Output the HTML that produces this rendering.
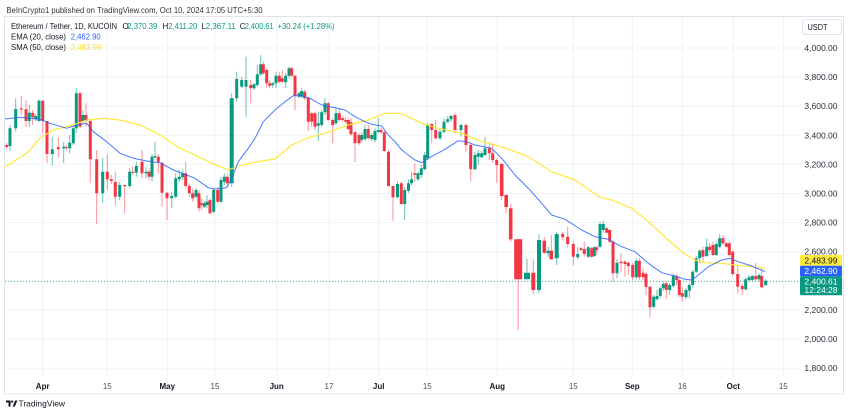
<!DOCTYPE html>
<html><head><meta charset="utf-8"><style>
html,body{margin:0;padding:0;background:#fff;}
svg{display:block;font-family:"Liberation Sans",sans-serif;}
</style></head><body>
<svg width="850" height="416" viewBox="0 0 850 416" xmlns="http://www.w3.org/2000/svg">
<rect x="0" y="0" width="850" height="416" fill="#fff"/>
<!-- header -->
<text x="6.5" y="13" font-size="8" fill="#333" textLength="256" lengthAdjust="spacingAndGlyphs">BeInCrypto1 published on TradingView.com, Oct 10, 2024 17:05 UTC+5:30</text>
<!-- frame -->
<rect x="4.5" y="16.5" width="839" height="377.5" fill="none" stroke="#e0e3eb" stroke-width="1"/>
<!-- grid -->
<g stroke="#f0f2f6" stroke-width="1">
<path d="M5 48H800M5 77.1H800M5 106.2H800M5 135.3H800M5 164.4H800M5 193.5H800M5 222.6H800M5 251.7H800M5 280.8H800M5 309.9H800M5 339H800M5 368.1H800"/>
<path d="M42.7 17V376M107.3 17V376M167.3 17V376M215 17V376M276.7 17V376M329 17V376M378.7 17V376M427.3 17V376M497.3 17V376M573.3 17V376M632.3 17V376M682.3 17V376M733.3 17V376M783.3 17V376"/>
</g>
<!-- current price dotted -->
<path d="M5 281.5H800" stroke="#089981" stroke-width="1" stroke-dasharray="1 2" opacity="0.7"/>
<!-- legend -->
<g font-size="8">
<text x="11" y="29" fill="#131722" textLength="106" lengthAdjust="spacingAndGlyphs">Ethereum / Tether, 1D, KUCOIN</text>
<text x="122.5" y="29" fill="#131722">O</text>
<text x="127.3" y="29" fill="#089981" textLength="30" lengthAdjust="spacingAndGlyphs">2,370.39</text>
<text x="162.5" y="29" fill="#131722">H</text>
<text x="168.3" y="29" fill="#089981" textLength="29" lengthAdjust="spacingAndGlyphs">2,411.20</text>
<text x="201.5" y="29" fill="#131722">L</text>
<text x="205.8" y="29" fill="#089981" textLength="30" lengthAdjust="spacingAndGlyphs">2,367.11</text>
<text x="239.8" y="29" fill="#131722">C</text>
<text x="244.7" y="29" fill="#089981" textLength="29" lengthAdjust="spacingAndGlyphs">2,400.61</text>
<text x="277.5" y="29" fill="#089981" textLength="57" lengthAdjust="spacingAndGlyphs">+30.24 (+1.28%)</text>
<text x="11" y="39.5" fill="#131722" textLength="55" lengthAdjust="spacingAndGlyphs">EMA (20, close)</text>
<text x="70.7" y="39.5" fill="#2962ff" textLength="30" lengthAdjust="spacingAndGlyphs">2,462.90</text>
<text x="11" y="50" fill="#131722" textLength="55" lengthAdjust="spacingAndGlyphs">SMA (50, close)</text>
<text x="70.7" y="50" fill="#f5dc3c" textLength="30.5" lengthAdjust="spacingAndGlyphs">2,483.99</text>
</g>
<!-- green wicks -->
<path fill="none" stroke="#089981" stroke-width="1" opacity="0.6" d="M10 125V150.7 M15.7 98.3V131.7 M29.3 105V126.7 M35.7 114V121 M39 99.3V121.7 M52.3 136.7V165 M63.7 141.7V163.3 M69.7 135V153.3 M73.3 126.7V145 M76.3 88.3V133.3 M83 110V123.3 M102.7 158.3V203.3 M119.7 181.7V200 M129.7 168.3V188.3 M136.3 161.7V176.7 M146 166.7V178.3 M152 154V181.7 M155 141.7V158.3 M171.7 191.7V208.3 M175.7 173.3V198.3 M179.3 170V181.7 M182.7 169.3V180 M196 188.3V198.3 M204.3 201V208 M207 195V208.3 M213.7 188.3V213.3 M221 176.7V203.3 M224.3 173.3V185 M231.7 93.3V186.7 M236.7 71.7V101.7 M241.7 76.7V88.3 M246 56.7V116.7 M254 83.3V90 M257.3 65V86.7 M260.7 55V75.7 M272.7 81.7V87.7 M276 71.7V87.7 M285.7 73.3V87.7 M289 66.7V78.3 M299 91.7V97.7 M301.7 88.3V98.3 M318.3 111.7V141 M321.7 110V126.7 M325 98.3V115 M336 108.3V125 M361.7 132.3V142.3 M365 125V141 M371.7 133V141 M375 128.3V142.3 M378.3 117.7V133.3 M397.5 181.7V198.3 M404.7 186.7V220 M408.5 179.3V192.7 M411.5 171.7V185 M418 171.7V181 M421.3 165V178.3 M424.7 152V170 M427.7 123.3V160 M440 128.3V140 M444 118.3V133.3 M447.7 116V123.3 M451 115V121.7 M461 123.3V136.7 M475 151.7V170 M478.3 150V165 M481.7 151V158 M485 136.7V156 M527 259V279.3 M539 234V292.7 M548.3 246.7V256.7 M556.7 231.7V265 M577.7 246.7V259.3 M588.3 246V258 M594.3 246V257 M600 221.7V248.3 M603.3 220.7V232.7 M617 259.3V278.3 M636.3 258.3V279.3 M653.7 295V308.3 M657 290V300 M660.3 286.7V298.3 M663.3 281.7V290.7 M669.7 283.3V295 M673.3 274V287.3 M686 288.3V299.3 M689.3 283.3V298.3 M692.7 270V287.3 M696.3 256V273.3 M699.7 249.3V263.3 M706.7 238.3V257.3 M716.3 241.7V256 M719.7 234V248.3 M745.7 277.3V290.7 M749 275V281.7 M752.3 275V281.7 M759 273.3V281.7 M765.7 279.2V285.6"/>
<!-- red wicks -->
<path fill="none" stroke="#f23645" stroke-width="1" opacity="0.55" d="M6.7 143V149 M21.3 96V115 M26 100V126.7 M32.7 110V125 M42.7 100V133.3 M47 121V163.3 M58.3 137.3V157.7 M66.3 145V150 M80 91.7V128.3 M86 103.3V126.7 M90.3 121V183.3 M96.7 150V224 M107.3 154V190 M111.3 175V184 M115.3 171.7V205 M124.7 185V213.3 M132.7 166.7V175 M142 150V178.3 M149 168.3V180 M158.3 154V173.3 M162 161.7V206.7 M167 191.7V220 M185.7 161.7V188.3 M189.3 183.3V196.7 M192.7 188.3V201.7 M199 190V211.7 M201.7 198.3V210 M210 198.3V214.3 M217.7 186.7V203.3 M227.3 173.3V186.7 M250.7 80V103.3 M263.3 61.7V75 M266.7 68.3V87.7 M269.7 80V88.3 M279.3 71.7V83.3 M282.3 70V83.3 M291.7 66.7V76.7 M295 75V110 M304.7 90V100 M308.3 96.7V131 M311.7 112.3V126.7 M315 111.7V130 M328.3 101.7V121 M332.7 118.3V143.3 M339.3 108.3V121.7 M342.7 116V122 M345.7 116.7V123.3 M348.3 118.3V130 M351 118.3V135.7 M355 131V162.3 M359 133.3V145 M368.3 125V140 M381 128V134 M384.3 131V151.7 M388.5 150V186.7 M393 186V220.7 M401.3 181.7V205 M414.8 163.3V181.7 M431.7 123.3V143.3 M435.7 120V139.3 M455 112.7V133.3 M466 123.3V151.7 M470.7 143.3V181.7 M489.3 141.7V160 M492.7 143.3V163.3 M496.7 158.3V182.7 M501.7 162.7V200 M506.2 194V213.3 M510.7 204V241.7 M518.2 238.3V330 M533.3 259.3V294 M544.3 236.7V254 M551.3 235V260 M562.7 232V240 M567.7 226.7V247.3 M573.3 241.7V265 M581 247V251 M584.3 241.7V256.7 M591.7 247V258 M596.7 246V255 M606.7 226.7V233.3 M609.7 229.3V243.3 M613 240V281.7 M621 253.3V271.7 M625 260V276.7 M628.3 261.7V275 M632.7 263.3V280 M639.3 258.3V280 M643 268.3V280 M646 271.7V295 M650 286V317.3 M666.3 281.7V299.3 M676.7 274V285 M679.3 278.3V296.7 M682.3 287.3V301.7 M703 246.7V263.3 M709.7 243.3V253.3 M713 241.7V256 M723 235V245 M726.3 241.7V247.3 M729.3 241.7V256.7 M732.7 250.7V276 M737.7 266V293.3 M742.3 283.3V295 M755.7 263.3V280.7 M761.7 268.3V288.3"/>
<!-- green bodies -->
<path fill="#089981" d="M8.5 128.3h3V146h-3z M14.2 109h3V128.3h-3z M27.8 112.7h3V121h-3z M34.2 116h3V119.3h-3z M37.5 100.7h3V121h-3z M50.8 149.3h3V154h-3z M62.2 146.7h3V148.3h-3z M68.2 142.7h3V148.3h-3z M71.8 128.3h3V143.3h-3z M74.8 93.3h3V128.3h-3z M81.5 115h3V121h-3z M101.2 171.7h3V193.3h-3z M118.2 185h3V196.7h-3z M128.2 171.7h3V186h-3z M134.8 166h3V172.7h-3z M144.5 171.7h3V173.3h-3z M150.5 156.7h3V176.7h-3z M153.5 156h3V157.3h-3z M170.2 196h3V198.3h-3z M174.2 178.3h3V196.7h-3z M177.8 176.7h3V179.3h-3z M181.2 173.3h3V177.3h-3z M194.5 190h3V196.7h-3z M202.8 203.3h3V206.7h-3z M205.5 201.7h3V205h-3z M212.2 190h3V211.7h-3z M219.5 180h3V201.7h-3z M222.8 176.7h3V181.7h-3z M229.7 98.3h4V183.3h-4z M235.2 79h3V98.3h-3z M240.2 80h3V86.7h-3z M244.5 80h3V86.7h-3z M252.5 84.3h3V88.3h-3z M255.8 74.3h3V85h-3z M259.2 64.3h3V74.3h-3z M271.2 83.3h3V85h-3z M274.5 75.7h3V83.3h-3z M284.2 75.7h3V82.3h-3z M287.5 68.3h3V75.7h-3z M297.5 93.3h3V96.7h-3z M300.2 91h3V96.7h-3z M316.8 123.3h3V125.7h-3z M320.2 112.3h3V125h-3z M323.5 103.3h3V112.3h-3z M334.5 113.3h3V123.3h-3z M360.2 135h3V140h-3z M363.5 129h3V139h-3z M370.2 135h3V139h-3z M373.5 131h3V140h-3z M376.8 130h3V131.7h-3z M396 184h3V197.3h-3z M403.2 190h3V204h-3z M407 183.3h3V190.7h-3z M410 179.3h3V183.3h-3z M416.5 173.3h3V179.3h-3z M419.8 168.3h3V175h-3z M423.2 155h3V169.3h-3z M426.2 125h3V158.3h-3z M438.5 131.7h3V138.3h-3z M442.5 121.7h3V131.7h-3z M446.2 119.3h3V121.7h-3z M449.5 116h3V119.3h-3z M459.5 125h3V130h-3z M473.5 155h3V169.3h-3z M476.8 153.3h3V156.7h-3z M480.2 153.3h3V157.3h-3z M483.5 148.3h3V155h-3z M524 272.7h6V279.3h-6z M537 240h4V290h-4z M546.5 250.7h3.5V253.3h-3.5z M554.7 234h4V258.3h-4z M576.2 254h3V257.3h-3z M586.8 247.3h3V256.7h-3z M592.8 247.3h3V256h-3z M598.5 224h3V246.7h-3z M601.8 224h3V230h-3z M615.5 262.7h3V273.3h-3z M634.8 260.7h3V277.3h-3z M652.2 296.7h3V306.7h-3z M655.5 296h3V299.3h-3z M658.8 288.3h3V296h-3z M661.8 284h3V288.3h-3z M668.2 285h3V290h-3z M671.8 276h3V286h-3z M684.5 290h3V297.3h-3z M687.8 285h3V290.7h-3z M691.2 271.7h3V285h-3z M694.8 258.3h3V271.7h-3z M698.2 250.7h3V258.3h-3z M705.2 246.7h3V256h-3z M714.8 244h3V255h-3z M718.2 238.3h3V246.7h-3z M744.2 279.3h3V289.3h-3z M747.5 277.3h3V280h-3z M750.8 276h3V280h-3z M757.5 275h3V279.3h-3z M764.2 280.7h3V285.1h-3z"/>
<!-- red bodies -->
<path fill="#f23645" d="M5.2 145h3V147h-3z M19.8 108.3h3V109.5h-3z M24.5 109.3h3V121h-3z M31.2 112.7h3V117.3h-3z M41.2 100.7h3V121h-3z M45.5 121h3V154h-3z M56.8 147.3h3V149.3h-3z M64.8 147.3h3V148.3h-3z M78.5 93.3h3V126.7h-3z M84.5 115h3V121h-3z M88.8 121h3V159.3h-3z M95.2 159.3h3V193.3h-3z M105.8 171.7h3V179.3h-3z M109.8 179.3h3V181h-3z M113.8 182h3V196.7h-3z M123.2 185h3V186.2h-3z M131.2 171.7h3V172.7h-3z M140.5 161.7h3V173.3h-3z M147.5 171.7h3V176.7h-3z M156.8 156.7h3V161.7h-3z M160.5 162.7h3V192.7h-3z M165.5 192.7h3V198.3h-3z M184.2 173.3h3V186h-3z M187.8 186h3V193.3h-3z M191.2 193.3h3V198.3h-3z M197.5 193.3h3V208.3h-3z M200.2 203.3h3V205h-3z M208.5 200h3V213.3h-3z M216.2 190h3V201.7h-3z M225.8 176.7h3V183.3h-3z M249.2 85h3V88.3h-3z M261.8 64.3h3V73.3h-3z M265.2 70h3V83.3h-3z M268.2 83.3h3V85.7h-3z M277.8 75.7h3V81.7h-3z M280.8 78.3h3V81.7h-3z M290.2 68.3h3V75.7h-3z M293.5 75.7h3V95.7h-3z M303.2 91.7h3V98.3h-3z M306.8 97.7h3V121.7h-3z M310.2 113.3h3V121.7h-3z M313.5 113.3h3V126.7h-3z M326.8 103.3h3V120h-3z M331.2 120h3V125h-3z M337.8 113.3h3V120h-3z M341.2 118.3h3V120h-3z M344.2 120h3V121.7h-3z M346.8 120h3V129h-3z M349.5 122.3h3V134.3h-3z M353.5 132.3h3V143.3h-3z M357.5 135h3V143.3h-3z M366.8 129h3V138.3h-3z M379.5 130h3V132.3h-3z M382.8 132.3h3V151h-3z M387 151.7h3V186h-3z M391.5 186h3V197.3h-3z M399.8 183.3h3V204h-3z M413.3 173.3h3V174.8h-3z M430.2 124h3V130h-3z M434.2 130h3V138.3h-3z M453.5 115h3V130h-3z M464.5 125h3V145h-3z M469.2 145h3V169.3h-3z M487.8 148.3h3V153.3h-3z M491.2 153.3h3V160h-3z M495.2 160h3V165h-3z M499.9 164h3.6V196h-3.6z M504.4 195h3.6V207h-3.6z M508.9 208.3h3.6V239.3h-3.6z M514.2 239.3h8V279.3h-8z M531.3 272.7h4V290h-4z M542.5 240.7h3.6V252.7h-3.6z M549.5 250.7h3.6V259.3h-3.6z M561.2 234h3V237.3h-3z M566.2 236.7h3V244h-3z M571.8 244h3V256.7h-3z M579.5 248.3h3V250h-3z M582.8 249.3h3V254h-3z M590.2 248.3h3V256.7h-3z M595.2 247.3h3V250h-3z M605.2 228.3h3V232.7h-3z M608.2 230h3V241.7h-3z M611.5 241.7h3V273.3h-3z M619.5 261.7h3V263.3h-3z M623.5 261.7h3V264h-3z M626.8 262.7h3V266h-3z M631.2 265h3V277.3h-3z M637.8 260.7h3V277.3h-3z M641.5 272.7h3V277.3h-3z M644.5 274h3V286.7h-3z M648.5 286.7h3V307.3h-3z M664.8 283.3h3V290h-3z M675.2 276h3V280h-3z M677.8 280h3V295h-3z M680.8 293.3h3V296.7h-3z M701.5 250h3V256.7h-3z M708.2 246.7h3V250h-3z M711.5 245h3V255h-3z M721.5 238.3h3V243.3h-3z M724.8 243.3h3V246.7h-3z M727.8 243.3h3V255h-3z M731.2 251.7h3V274h-3z M736.2 274h3V286.7h-3z M740.8 286h3V289.3h-3z M754.2 276h3V279.3h-3z M760.2 276h3V287.3h-3z"/>
<!-- SMA -->
<polyline fill="none" stroke="#ffe83b" stroke-width="1.2" stroke-linejoin="round" points="5,167 26.7,153.3 40,138.3 53.3,130 73.3,125 86.7,120 103.3,118.3 120,120 140,125 160,135 180,148.3 195,155 211.7,163.3 228.3,170 241.7,165 261.7,161 275,159 291.7,145 308.3,137.7 328.3,132.3 348.3,125 368.3,120 385,113.3 400,113.3 408.3,116.7 421.7,123.3 438.3,128.3 461.7,133.3 481.7,141.7 501.7,146.7 528.3,156.7 551.7,171.7 575,180 600,197.3 611.7,200 631.7,208.3 648.3,221.7 668.3,240 681.7,251.7 695,260 705,262.7 721.7,263.3 735,265 751.7,266.7 765,268.3"/>
<!-- EMA -->
<polyline fill="none" stroke="#2962ff" stroke-width="1" stroke-linejoin="round" opacity="0.85" points="5,119 20,117.3 40,119.3 50,123.3 66.7,128.3 76.7,125 86.7,123.3 93.3,131.7 106.7,141.7 120,153.3 133.3,158.3 146.7,161 160,162.7 173.3,170 186.7,175 195,178.3 208.3,187.7 215,189 226.7,187.7 231.7,178.3 238.3,161.7 248.3,148.3 255,138.3 263.3,121.7 275,110 285,101.7 293.3,95.7 301.7,95.7 310,98.3 321.7,105 335,107.7 345,110 355,116.7 365,121.7 371.7,124.3 381.7,126 388.3,135 395,141.7 401.7,150 415,160 421.7,162.7 428.3,158.3 445,149.3 458.3,140.7 466.7,141.7 475,145 491.7,148.3 501.7,158.3 515,175 530,190 541.7,203.3 551.7,215 565,219.3 581.7,230 595,236.7 608.3,239.3 621.7,246.7 635,251.7 648.3,263.3 661.7,272.7 675,276 685,279.3 691.7,280 698.3,275 708.3,266.7 721.7,260 730,258.3 738.3,261.7 751.7,266 765,271.7"/>
<!-- price axis -->
<rect x="802.5" y="19.5" width="39" height="15" rx="3" fill="#fff" stroke="#e0e3eb"/>
<text x="807.5" y="30" font-size="8" fill="#131722" textLength="20" lengthAdjust="spacingAndGlyphs">USDT</text>
<g font-size="8.5" fill="#2a2e39" text-anchor="end">
<text x="837.5" y="51">4,000.00</text>
<text x="837.5" y="80.1">3,800.00</text>
<text x="837.5" y="109.2">3,600.00</text>
<text x="837.5" y="138.3">3,400.00</text>
<text x="837.5" y="167.4">3,200.00</text>
<text x="837.5" y="196.5">3,000.00</text>
<text x="837.5" y="225.6">2,800.00</text>
<text x="837.5" y="254.5">2,600.00</text>
<text x="837.5" y="312.9">2,200.00</text>
<text x="837.5" y="342">2,000.00</text>
<text x="837.5" y="371.1">1,800.00</text>
</g>
<rect x="800" y="255" width="42" height="10.8" rx="1" fill="#ffeb3b"/>
<rect x="800" y="265.8" width="42" height="10.6" rx="1" fill="#2962ff"/>
<rect x="800" y="276.4" width="42" height="18.8" rx="1" fill="#089981"/>
<g font-size="8.5" text-anchor="end">
<text x="837.5" y="263.5" fill="#131722">2,483.99</text>
<text x="837.5" y="274.2" fill="#fff">2,462.90</text>
<text x="837.5" y="284.6" fill="#fff">2,400.61</text>
<text x="837.5" y="293" fill="#fff">12:24:28</text>
</g>
<!-- time axis -->
<g font-size="8" text-anchor="middle">
<text x="42.7" y="389" fill="#131722" font-weight="bold">Apr</text>
<text x="107.3" y="389" fill="#4a4e59">15</text>
<text x="167.3" y="389" fill="#131722" font-weight="bold">May</text>
<text x="215" y="389" fill="#4a4e59">15</text>
<text x="276.7" y="389" fill="#131722" font-weight="bold">Jun</text>
<text x="329" y="389" fill="#4a4e59">17</text>
<text x="378.7" y="389" fill="#131722" font-weight="bold">Jul</text>
<text x="427.3" y="389" fill="#4a4e59">15</text>
<text x="497.3" y="389" fill="#131722" font-weight="bold">Aug</text>
<text x="573.3" y="389" fill="#4a4e59">15</text>
<text x="632.3" y="389" fill="#131722" font-weight="bold">Sep</text>
<text x="682.3" y="389" fill="#4a4e59">16</text>
<text x="733.3" y="389" fill="#131722" font-weight="bold">Oct</text>
<text x="783.3" y="389" fill="#4a4e59">15</text>
</g>
<!-- footer logo -->
<g fill="#131722">
<path d="M6 400.5h4.6v6h-2.1v-4h-2.5z"/>
<circle cx="12.2" cy="401.6" r="1.1"/>
<path d="M12.6 406.5l2.6-6h2.2l-2.6 6z"/>
</g>
<text x="18.5" y="406.3" font-size="8.5" fill="#131722" textLength="46.5" lengthAdjust="spacingAndGlyphs">TradingView</text>
</svg>
</body></html>
